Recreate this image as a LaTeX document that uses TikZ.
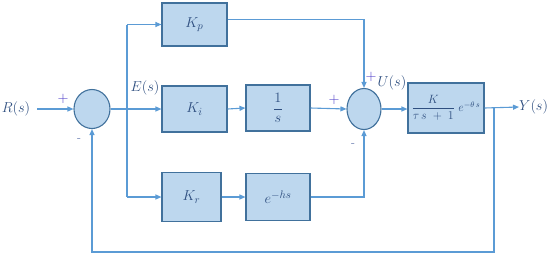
\documentclass[tikz,border=0pt]{standalone}
\usepackage{amsmath}
\usetikzlibrary{shapes.geometric,arrows.meta}
\definecolor{boxfill}{HTML}{BDD7EE}
\definecolor{boxline}{HTML}{41719C}
\definecolor{wire}{HTML}{5B9BD5}
\definecolor{txt}{HTML}{2F4F80}
\definecolor{plus}{HTML}{4B3BC8}
\definecolor{minus}{HTML}{5A6FA8}
\begin{document}
\begin{tikzpicture}[x=1pt,y=-1pt,
  blk/.style={draw=boxline,fill=boxfill,line width=1.1pt,rectangle,inner sep=0pt,text=txt,font=\fontsize{15}{17}\selectfont},
  sumnode/.style={draw=boxline,fill=boxfill,line width=1.1pt,ellipse,inner sep=0pt},
  arr/.style={draw=wire,line width=1.1pt,-{Triangle[length=6pt,width=5pt]}},
  wireline/.style={draw=wire,line width=1.1pt},
  lbl/.style={text=txt,font=\fontsize{15}{17}\selectfont,inner sep=0pt},
  sgnp/.style={text=plus,font=\fontsize{14}{16}\selectfont,inner sep=0pt},
  sgnm/.style={text=minus,font=\fontsize{12}{14}\selectfont,inner sep=0pt}]
\useasboundingbox (0,0) rectangle (550,255);
\node[lbl] (R) at (16,109) {$R(s)$};
\node[sumnode,minimum width=36pt,minimum height=39pt] (sum1) at (92,109) {};
\node[blk,minimum width=65pt,minimum height=43pt] (kp) at (194.5,24.5) {$K_p$};
\node[blk,minimum width=65pt,minimum height=46pt] (ki) at (194.5,109) {$K_i$};
\node[blk,minimum width=64pt,minimum height=46pt] (inv) at (278,108) {$\dfrac{1}{s}$};
\node[blk,minimum width=59pt,minimum height=49pt] (kr) at (191.5,197) {$K_r$};
\node[blk,minimum width=64pt,minimum height=47pt] (eh) at (278,197) {$e^{-hs}$};
\node[sumnode,minimum width=34pt,minimum height=41pt] (sum2) at (364,109) {};
\node[blk,minimum width=76pt,minimum height=50pt,font=\fontsize{11.5}{13}\selectfont] (plant) at (446,108) {$\dfrac{K}{\tau\,s\;+\;1}\;e^{-\theta\,s}$};
\node[lbl,anchor=west] (Y) at (519,107) {$Y(s)$};
\coordinate (br) at (127,109);
\coordinate (fb) at (494,108);
% connectors
\draw[arr] ([xshift=7pt]R.east) -- (sum1.west);
\draw[arr] (sum1.east) -- (ki.west);
\draw[wireline] (br |- kp.west) -- (br |- kr.west);
\draw[arr] (br |- kp.west) -- (kp.west);
\draw[arr] (br |- kr.west) -- (kr.west);
\draw[arr] ([yshift=5pt]kp.east) -| (sum2.north);
\draw[arr] (ki.east) -- (inv.west);
\draw[arr] (inv.east) -- (sum2.west);
\draw[arr] (kr.east) -- (eh.west);
\draw[arr] (eh.east) -| (sum2.south);
\draw[arr] (sum2.east) -- (sum2.east -| plant.west);
\draw[arr] (plant.east) -- (Y.west);
\draw[arr] (fb) -- ++(0,144) -| (sum1.south);
% labels
\node[sgnp] (p1) at (63,99) {$+$};
\node[sgnm] (m1) at (79,140) {-};
\node[lbl] (E) at (145,88) {$E(s)$};
\node[sgnp] (p2) at (334,100) {$+$};
\node[sgnp] (p3) at (371,77) {$+$};
\node[lbl] (U) at (392,83) {$U(s)$};
\node[sgnm] (m2) at (353,145) {-};
\end{tikzpicture}
\end{document}
